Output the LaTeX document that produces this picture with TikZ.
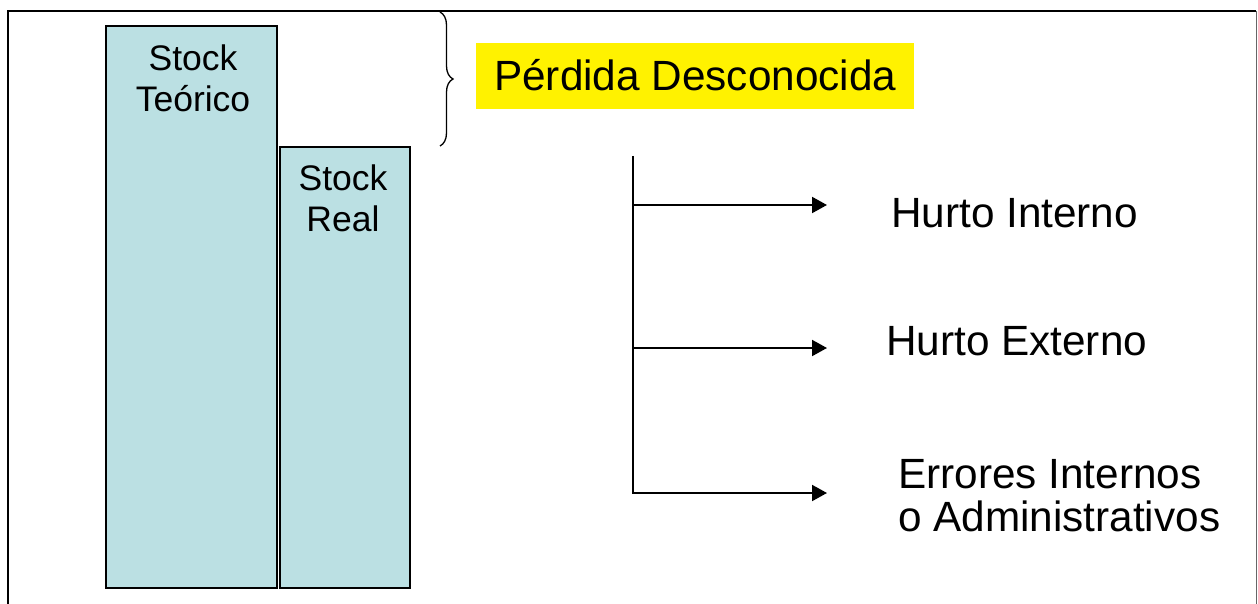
\documentclass[tikz,border=0pt]{standalone}
\usepackage{fontspec}
\setmainfont{Liberation Sans}
\usetikzlibrary{arrows.meta,decorations.pathreplacing}
\definecolor{stockfill}{HTML}{BBE0E3}
\begin{document}
\begin{tikzpicture}[x=1pt,y=-1pt,
  bar/.style={draw=black,line width=2pt,fill=stockfill,anchor=north west,inner sep=0pt},
  bartext/.style={font=\fontsize{35.5}{41.5}\selectfont,align=center,anchor=base,inner sep=0pt},
  bigtext/.style={font=\fontsize{42.3}{42.5}\selectfont,align=left,anchor=base west,inner sep=0pt},
  branch/.style={line width=2pt,-{Triangle[length=15pt,width=16pt]}},
  trunk/.style={line width=2pt}]
\useasboundingbox (0,0) rectangle (1258,604);
% frame
\draw[line width=2pt] (8,604) -- (8,11) -- (1256,11);
\draw[line width=1.2pt,black!60] (1256.5,11) -- (1256.5,604);
% bars
\node[bar,minimum width=171pt,minimum height=562pt] (teo) at (105,25) {};
\node[bar,minimum width=130pt,minimum height=441pt] (real) at (279,146) {};
\node[bartext] (teot) at (193,112) {Stock\\Teórico};
\node[bartext] (realt) at (343,232) {Stock\\Real};
% brace
\coordinate (bt) at (440,12);
\coordinate (bb) at (440,146);
\draw[line width=1.3pt,decorate,decoration={brace,amplitude=13pt}] (bt) -- (bb);
% label
\node[fill=yellow,font=\fontsize{42.3}{42.5}\selectfont,anchor=base west,inner xsep=18pt,inner ysep=0pt,text height=48pt,text depth=18pt] (pd) at (476,91) {Pérdida Desconocida};
% tree
\coordinate (top) at (633,156);
\coordinate (bot) at (633,494);
\coordinate (s1) at (633,205);
\coordinate (s2) at (633,348);
\coordinate (s3) at (633,493);
\coordinate (e1) at (827,205);
\coordinate (e2) at (827,348);
\coordinate (e3) at (827,493);
\draw[trunk] (top) -- (bot);
\draw[branch] (s1) -- (e1);
\draw[branch] (s2) -- (e2);
\draw[branch] (s3) -- (e3);
\node[bigtext] (hi) at (891,228) {Hurto Interno};
\node[bigtext] (he) at (886,355) {Hurto Externo};
\node[bigtext] (ei) at (898,531) {Errores Internos\\o Administrativos};
\end{tikzpicture}
\end{document}
